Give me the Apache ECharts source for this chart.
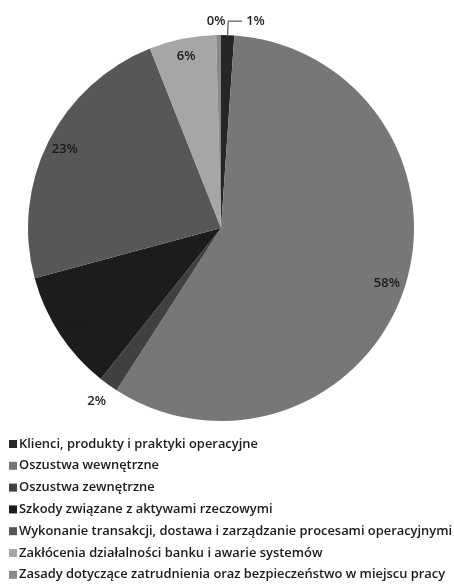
<!DOCTYPE html>
<html>
<head>
<meta charset="utf-8">
<script src="https://cdn.jsdelivr.net/npm/echarts@6/dist/echarts.min.js"></script>
<style>
  html, body { margin: 0; padding: 0; background: #fff; }
  #chart { width: 454px; height: 586px; }
</style>
</head>
<body>
<div id="chart"></div>
<script>
// kategorie strat operacyjnych (od góry, zgodnie z ruchem wskazówek zegara)
var categories = [
    'Klienci, produkty i praktyki operacyjne',
    'Oszustwa wewnętrzne',
    'Oszustwa zewnętrzne',
    'Szkody związane z aktywami rzeczowymi',
    'Wykonanie transakcji, dostawa i zarządzanie procesami operacyjnymi',
    'Zakłócenia działalności banku i awarie systemów',
    'Zasady dotyczące zatrudnienia oraz bezpieczeństwo w miejscu pracy'
];
var shares = [1.1, 58.0, 1.6, 10.1, 23.2, 5.6, 0.4];
var colors = ['#262626', '#777777', '#404040', '#1c1c1c', '#575757', '#a6a6a6', '#8a8a8a'];
// które etykiety leżą na zewnątrz koła
var outsideLabel = [true, false, true, false, false, false, true];

var chart = echarts.init(document.getElementById('chart'));

var font = '"Open Sans", sans-serif';
var center = [221, 228];
var R = 193;

function pct(p) {
    return Math.round(p.percent) + '%';
}

// ustawienia etykiet zewnętrznych (linia odniesienia tylko dla 1%)
var outsideLine = {
    0: { show: true, length: 14, length2: 14 },
    2: { show: false, length: 20, length2: 0 },
    6: { show: false, length: 14, length2: 0 }
};
var outsideDist = { 0: 4, 2: -9, 6: -7 };

var mainData = [], labelData = [];
for (var i = 0; i < categories.length; i++) {
    mainData.push({
        name: categories[i],
        value: shares[i],
        itemStyle: { color: colors[i] },
        label: { show: outsideLabel[i], distanceToLabelLine: outsideDist[i] || 5 },
        labelLine: outsideLine[i] || { show: false }
    });
    labelData.push({
        name: categories[i],
        value: shares[i],
        label: { show: !outsideLabel[i] }
    });
}

var option = {
    animation: false,
    color: colors,
    legend: {
        orient: 'vertical',
        left: 4,
        top: 432,
        height: 170,
        itemWidth: 8,
        itemHeight: 8,
        itemGap: 7.8,
        icon: 'rect',
        textStyle: {
            fontFamily: font,
            fontSize: 12.9,
            fontWeight: 600,
            color: '#1a1a1a',
            lineHeight: 14,
            padding: [0, 0, 0, -3]
        },
        data: categories
    },
    series: [
        {
            type: 'pie',
            center: center,
            radius: R,
            startAngle: 90,
            clockwise: true,
            avoidLabelOverlap: false,
            itemStyle: { borderWidth: 0 },
            label: {
                position: 'outside',
                formatter: pct,
                fontFamily: font,
                fontSize: 13,
                fontWeight: 600,
                color: '#222'
            },
            labelLine: {
                lineStyle: { color: '#333', width: 1 }
            },
            emphasis: { disabled: true },
            data: mainData
        },
        {
            // przezroczysta nakładka tylko dla etykiet wewnątrz koła
            type: 'pie',
            center: center,
            radius: [R * 0.78, R],
            startAngle: 90,
            clockwise: true,
            silent: true,
            itemStyle: { color: 'rgba(0,0,0,0)', borderWidth: 0 },
            label: {
                position: 'inside',
                formatter: pct,
                fontFamily: font,
                fontSize: 13,
                fontWeight: 600,
                color: '#1a1a1a'
            },
            labelLine: { show: false },
            emphasis: { disabled: true },
            data: labelData
        }
    ]
};

chart.setOption(option);
</script>
</body>
</html>
